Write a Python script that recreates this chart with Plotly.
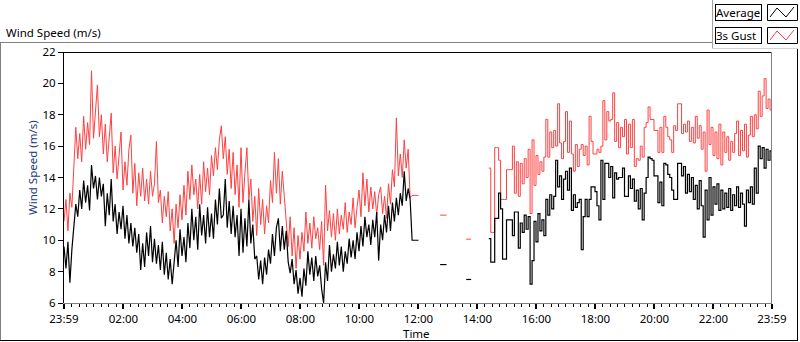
import plotly.graph_objects as go

# ---------------- data (minutes after 23:59 of previous day) ----------------
tick_minutes = [0, 121, 241, 361, 481, 601, 721, 841, 961, 1081, 1201, 1321, 1440]
tick_labels = ["23:59", "02:00", "04:00", "06:00", "08:00", "10:00", "12:00",
               "14:00", "16:00", "18:00", "20:00", "22:00", "23:59"]

seg1_start = 0
seg1_step = 4
seg1_avg = [
    9.6, 8.2, 9.9, 7.3, 9.4, 11.0, 12.3, 11.5, 13.2, 12.0,
    13.8, 12.4, 13.5, 11.9, 14.8, 13.3, 14.1, 12.6, 14.0, 12.8,
    13.6, 10.9, 13.0, 11.6, 13.9, 11.2, 12.3, 10.4, 11.8, 10.7,
    12.2, 10.1, 11.6, 9.8, 11.1, 9.6, 10.8, 9.2, 10.4, 8.1,
    9.8, 8.3, 10.5, 9.0, 10.9, 8.6, 10.1, 8.5, 9.7, 8.1,
    9.9, 7.8, 9.2, 7.5, 8.8, 7.2, 8.6, 10.0, 8.3, 10.7,
    9.0, 10.2, 8.6, 11.1, 9.5, 12.0, 10.0, 11.5, 9.4, 12.3,
    10.3, 11.6, 9.8, 12.1, 10.2, 11.7, 10.1, 12.6, 11.0, 13.3,
    11.4, 11.6, 13.9, 10.8, 12.5, 10.4, 12.2, 10.2, 11.6, 9.0,
    12.0, 9.2, 11.4, 9.6, 12.6, 9.8, 11.0, 8.8, 9.0, 7.5,
    8.7, 7.2, 8.9, 7.8, 9.4, 8.5, 10.4, 9.0, 10.8, 11.4,
    9.3, 10.9, 9.4, 10.6, 8.6, 7.9, 8.8, 7.2, 8.1, 6.6,
    7.6, 6.4, 8.2, 7.1, 9.3, 7.8, 8.9, 7.4, 9.0, 7.7,
    8.4, 6.9, 6.0, 8.6, 7.4, 9.7, 8.0, 9.1, 8.2, 9.9,
    8.4, 9.6, 8.0, 9.3, 8.5, 10.1, 8.9, 10.0, 8.8, 10.5,
    9.3, 10.9, 9.6, 11.5, 10.2, 11.0, 9.7, 11.3, 10.2, 11.8,
    8.7, 11.0, 10.0, 11.6, 10.5, 12.2, 10.6, 12.4, 11.2, 12.7,
    11.6, 13.0, 12.2, 14.4, 12.5, 13.3, 12.6,
]
seg1_gust = [
    11.2, 12.6, 10.6, 13.0, 12.1, 14.4, 17.2, 15.2, 16.8, 15.0,
    17.9, 15.8, 17.5, 16.1, 20.8, 16.5, 18.3, 19.9, 16.6, 18.0,
    15.5, 17.4, 15.0, 16.9, 18.1, 14.3, 16.0, 13.9, 15.4, 16.9,
    13.2, 15.0, 13.5, 15.8, 16.7, 13.0, 14.9, 12.2, 14.3, 12.8,
    14.6, 12.5, 13.9, 12.3, 14.4, 12.8, 13.6, 16.3, 12.4, 13.2,
    11.1, 12.8, 11.5, 13.1, 10.6, 12.0, 9.8, 12.3, 10.8, 12.9,
    11.3, 13.5, 11.6, 14.4, 12.6, 14.8, 12.9, 13.9, 12.0, 14.2,
    12.3, 15.0, 13.1, 14.6, 12.9, 15.4, 14.1, 15.9, 14.5, 16.4,
    17.3, 15.2, 16.6, 14.2, 15.8, 13.3, 15.6, 12.9, 14.8, 12.1,
    15.9, 12.4, 14.3, 15.9, 12.6, 13.9, 11.2, 12.8, 10.3, 13.3,
    11.0, 12.6, 10.4, 12.2, 11.1, 13.8, 12.4, 15.6, 13.0, 15.2,
    12.3, 14.4, 12.8, 11.2, 9.6, 11.5, 9.0, 10.8, 8.2, 10.3,
    8.8, 10.5, 9.3, 11.8, 9.8, 11.1, 9.5, 11.5, 10.1, 10.8,
    9.4, 11.2, 8.4, 13.5, 10.6, 11.9, 10.2, 11.7, 10.0, 12.0,
    10.4, 11.6, 10.7, 12.4, 10.5, 11.8, 11.0, 12.7, 10.8, 12.1,
    13.2, 11.5, 14.3, 12.2, 13.9, 11.8, 13.4, 12.0, 13.1, 11.6,
    12.9, 13.4, 11.7, 12.8, 11.4, 13.6, 12.3, 14.5, 13.4, 17.8,
    14.1, 15.5, 14.0, 16.4, 14.6, 15.8, 12.7,
]
seg1_tail_times = [708, 721]
seg1_tail_avg = [10.0, 10.0]
seg1_tail_gust = [12.86, 12.86]

mid_times = [[765, 778], [818, 828]]
mid_avg = [8.45, 7.5]
mid_gust = [11.6, 10.07]

seg2_start = 864
seg2_step = 4
seg2_end = 1440
seg2_avg = [
    10.1, 8.6, 8.6, 11.4, 11.4, 13.0, 12.0, 8.8, 8.8, 11.3,
    11.3, 11.3, 10.3, 11.8, 11.8, 9.5, 11.1, 10.5, 11.6, 10.7,
    11.5, 7.2, 8.7, 11.2, 9.9, 11.7, 10.6, 11.3, 10.3, 12.6,
    11.6, 12.9, 12.0, 12.8, 15.1, 13.4, 14.1, 12.6, 13.9, 14.4,
    13.2, 14.6, 11.9, 12.9, 12.1, 12.4, 12.6, 9.4, 11.5, 12.6,
    11.5, 12.6, 13.4, 13.4, 13.1, 12.2, 11.3, 15.1, 12.6, 14.9,
    14.9, 14.0, 14.7, 12.7, 14.3, 13.9, 14.0, 14.0, 14.6, 12.8,
    12.8, 14.1, 13.3, 13.9, 12.5, 13.2, 12.0, 13.3, 11.3, 13.0,
    14.0, 15.3, 15.2, 15.1, 14.1, 14.1, 12.4, 13.7, 12.2, 14.9,
    14.8, 14.2, 14.0, 13.2, 12.6, 12.6, 14.9, 14.9, 14.1, 14.7,
    13.0, 14.2, 13.1, 14.0, 12.6, 13.5, 12.0, 13.8, 12.2, 10.2,
    13.2, 11.3, 14.0, 11.6, 13.4, 12.3, 13.6, 11.9, 13.2, 12.0,
    13.0, 12.1, 13.3, 11.9, 12.9, 12.2, 13.4, 12.1, 13.0, 12.3,
    10.9, 13.2, 12.4, 13.4, 12.3, 14.6, 13.0, 16.0, 15.2, 15.9,
    14.6, 15.8, 15.1, 15.7,
]
seg2_gust = [
    14.6, 10.5, 10.5, 15.9, 15.9, 15.1, 12.6, 12.6, 12.6, 14.5,
    14.5, 14.5, 16.0, 13.0, 15.0, 12.8, 14.9, 13.6, 15.2, 14.0,
    15.8, 11.7, 16.4, 13.5, 15.4, 14.2, 15.0, 14.4, 15.3, 17.7,
    15.3, 16.9, 15.9, 17.0, 16.0, 18.7, 16.2, 15.2, 16.3, 18.2,
    15.6, 17.6, 15.5, 14.4, 16.1, 14.7, 15.8, 16.1, 15.4, 16.0,
    14.8, 17.9, 16.3, 15.5, 15.5, 15.8, 15.6, 16.0, 18.9, 16.4,
    18.2, 17.6, 17.7, 19.4, 16.3, 17.5, 15.9, 17.2, 16.6, 17.7,
    15.5, 17.4, 15.9, 17.7, 14.7, 15.2, 15.1, 16.0, 15.3, 17.2,
    17.5, 18.5, 17.7, 17.7, 17.0, 17.0, 15.6, 17.2, 15.6, 17.9,
    17.2, 16.6, 16.4, 15.6, 17.3, 17.0, 18.7, 18.7, 16.8, 17.4,
    16.9, 17.6, 16.3, 17.2, 16.2, 17.9, 16.5, 17.3, 15.8, 16.9,
    14.4, 18.3, 16.1, 17.2, 15.4, 16.9, 15.2, 17.4, 14.8, 16.9,
    15.6, 16.6, 15.1, 16.3, 15.6, 16.8, 17.6, 15.4, 17.0, 15.7,
    17.4, 15.3, 16.7, 17.9, 16.6, 18.0, 17.1, 19.5, 17.9, 19.2,
    20.3, 18.4, 19.0, 18.3,
]

# ---------------- build series ----------------
def build_first(seg1, tail, mids):
    xs, ys = [], []
    for i, v in enumerate(seg1):
        xs.append(seg1_start + i * seg1_step); ys.append(v)
    xs += seg1_tail_times; ys += tail
    xs.append(None); ys.append(None)
    for (a, b), v in zip(mid_times, mids):
        xs += [a, b, None]; ys += [v, v, None]
    return xs, ys

def build_second(seg2):
    xs = [seg2_start + i * seg2_step for i in range(len(seg2))] + [seg2_end]
    ys = list(seg2) + [seg2[-1]]
    return xs, ys

RED = "#ff4040"
BLACK = "#000000"

FONT = "Noto Sans"
W, H = 800, 342
L, R, T, B = 64, 28, 52, 39
PW, PH = W - L - R, H - T - B

def px(x):
    return (x - L) / PW

def py(y):
    return (H - B - y) / PH

fig = go.Figure()
for name, seg1, tail, mids, seg2, color, width in [
    ("3s Gust", seg1_gust, seg1_tail_gust, mid_gust, seg2_gust, RED, 1),
    ("Average", seg1_avg, seg1_tail_avg, mid_avg, seg2_avg, BLACK, 1.2),
]:
    x1, y1 = build_first(seg1, tail, mids)
    x2, y2 = build_second(seg2)
    fig.add_trace(go.Scatter(x=x1, y=y1, mode="lines", line=dict(color=color, width=width),
                             connectgaps=False, name=name, hoverinfo="skip"))
    fig.add_trace(go.Scatter(x=x2, y=y2, mode="lines",
                             line=dict(color=color, width=width, shape="hv"),
                             name=name, hoverinfo="skip"))

shapes = []
def line(x0, y0, x1, y1, color, width=1):
    shapes.append(dict(type="line", xref="paper", yref="paper",
                       x0=px(x0), y0=py(y0), x1=px(x1), y1=py(y1),
                       line=dict(color=color, width=width)))

# plot-area sunken border
line(64, 52.5, 772, 52.5, "#000000")
line(63.5, 52, 63.5, 303, "#000000")
line(771.5, 52, 771.5, 303.5, "#808080")
line(63.5, 303.5, 772, 303.5, "#808080")
# outer frame
line(0, 42.5, 712.5, 42.5, "#808080")
line(0.5, 42.5, 0.5, 341, "#808080")
line(0, 340.5, 798, 340.5, "#000000")
line(797.5, 48.5, 797.5, 341, "#000000")
# legend panel edges
line(712.5, 0, 712.5, 48.5, "#a0a0a0")
line(712.5, 48.5, 798, 48.5, "#d4d4d4")

# legend icon boxes + zigzags
for (top, color) in [(4, BLACK), (27, RED)]:
    shapes.append(dict(type="rect", xref="paper", yref="paper",
                       x0=px(767.5), y0=py(top + 0.5), x1=px(797.5), y1=py(top + 16.5),
                       line=dict(color="#000000", width=1), fillcolor="white"))
    pts = [(770, top + 13), (777, top + 4), (786, top + 13), (794, top + 3)]
    path = "M " + " L ".join(f"{px(a)},{py(b)}" for a, b in pts)
    shapes.append(dict(type="path", xref="paper", yref="paper", path=path,
                       line=dict(color=color, width=1)))

annotations = [
    dict(text="Wind Speed (m/s)", x=px(4), y=py(32), xref="paper", yref="paper",
         xanchor="left", yanchor="middle", showarrow=False,
         font=dict(family=FONT, size=11.5, color="#000000")),
    dict(text="Wind Speed (m/s)", x=px(32), y=py(168), xref="paper", yref="paper",
         xanchor="center", yanchor="middle", showarrow=False, textangle=-90,
         font=dict(family=FONT, size=11.5, color="#1c3a78")),
    dict(text="Time", x=px(416), y=py(333), xref="paper", yref="paper",
         xanchor="center", yanchor="middle", showarrow=False,
         font=dict(family=FONT, size=11.5, color="#000000")),
]
for top, label in [(4, "Average"), (27, "3s Gust")]:
    annotations.append(dict(text=label, x=px(715), y=py(top), xref="paper", yref="paper",
                            xanchor="left", yanchor="top", showarrow=False, align="left",
                            width=45, height=15, borderpad=0, bordercolor="#000000",
                            borderwidth=1, bgcolor="white",
                            font=dict(family=FONT, size=11.5, color="#000000")))

fig.update_layout(
    width=W, height=H, margin=dict(l=L, r=R, t=T, b=B, pad=0),
    paper_bgcolor="white", plot_bgcolor="white", showlegend=False,
    font=dict(family=FONT, size=11.5, color="#000000"),
    shapes=shapes, annotations=annotations,
    xaxis=dict(range=[0, 1440], tickmode="array", tickvals=tick_minutes, ticktext=tick_labels,
               ticks="outside", ticklen=5, tickwidth=2, tickcolor="#000000",
               showgrid=False, zeroline=False, showline=False,
               tickfont=dict(family=FONT, size=11.5, color="#000000"),
               minor=dict(tick0=1, dtick=15, ticks="outside", ticklen=3, tickwidth=1,
                          tickcolor="#000000", showgrid=False)),
    yaxis=dict(range=[6, 22], dtick=2, tick0=6, ticks="outside", ticklen=5, tickwidth=1,
               tickcolor="#000000", showgrid=False, zeroline=False, showline=False,
               tickfont=dict(family=FONT, size=11.5, color="#000000")),
)

fig.write_html("out.html", config={"displayModeBar": False},
               post_script="document.body.style.margin='0';")
